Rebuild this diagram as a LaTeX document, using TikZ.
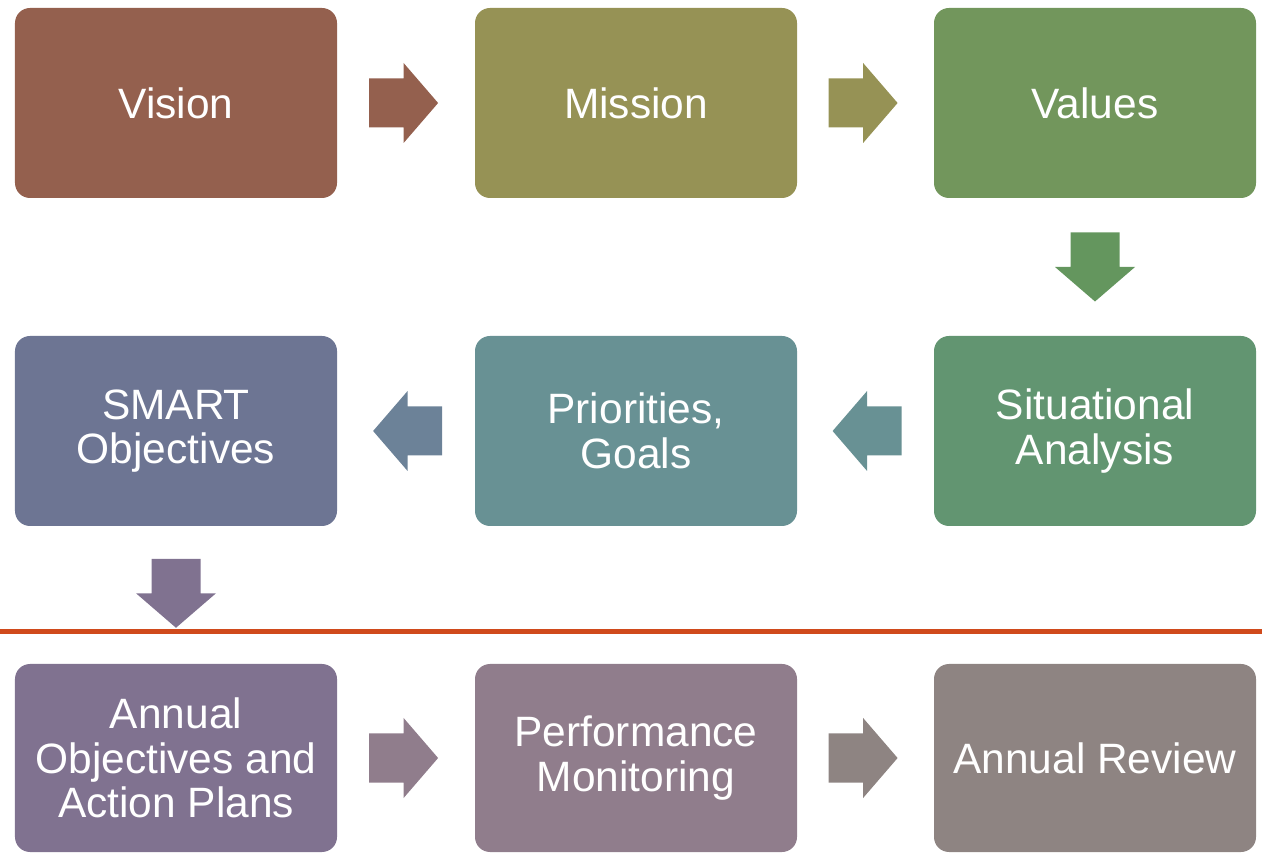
\documentclass[tikz,border=0pt]{standalone}
\usepackage{fontspec}
\setmainfont{Liberation Sans}
\usetikzlibrary{calc}
\definecolor{cvision}{HTML}{94604E}
\definecolor{cmission}{HTML}{969255}
\definecolor{cvalues}{HTML}{72965C}
\definecolor{csituation}{HTML}{629571}
\definecolor{cpriority}{HTML}{689194}
\definecolor{csmart}{HTML}{6D7593}
\definecolor{cannual}{HTML}{807290}
\definecolor{cmonitor}{HTML}{907D8C}
\definecolor{creview}{HTML}{8E8482}
\definecolor{cdown}{HTML}{64965E}
\definecolor{cleft}{HTML}{6C8298}
\definecolor{cline}{HTML}{D04A1C}
\tikzset{
  box/.style={rounded corners=0.375cm, inner sep=0pt, minimum width=8.05cm,
    minimum height=4.75cm, text=white, align=center,
    font=\fontsize{30.2}{31.6}\selectfont},
  blockarrow/.pic={
    \fill (-0.8625,-0.6125) -- (0,-0.6125) -- (0,-1) -- (0.8625,0)
      -- (0,1) -- (0,0.6125) -- (-0.8625,0.6125) -- cycle;
  }
}

\begin{document}
\begin{tikzpicture}
    \useasboundingbox (0,0) rectangle (31.55,21.3);
    % boxes
    \foreach \nm/\x/\y/\col/\txt in {
        vision/4.4/18.725/cvision/{Vision},
        mission/15.9/18.725/cmission/{Mission},
        values/27.375/18.725/cvalues/{Values},
        situation/27.375/10.525/csituation/{Situational\\Analysis},
        priority/15.9/10.525/cpriority/{Priorities,\\Goals},
        smart/4.4/10.525/csmart/{SMART\\Objectives}} {
      \node[box, fill=\col] (\nm) at (\x,\y) {\txt};
    }
    \foreach \nm/\x/\col/\txt in {
        annual/4.4/cannual/{Annual\\Objectives and\\Action Plans},
        monitor/15.9/cmonitor/{Performance\\Monitoring},
        review/27.375/creview/{Annual Review}} {
      \node[box, fill=\col, minimum height=4.7cm] (\nm) at (\x,2.35) {\txt};
    }
    % divider
    \coordinate (cutl) at (0,5.5125);
    \coordinate (cutr) at (31.55,5.5125);
    \draw[cline, line width=0.125cm] (cutl) -- (cutr);
    % arrows
    \pic[fill=cvision] at ($(vision.east)!0.5!(mission.west)+(-0.06,0)$) {blockarrow};
    \pic[fill=cmission] at ($(mission.east)!0.5!(values.west)+(-0.06,0)$) {blockarrow};
    \pic[fill=cdown, rotate=-90] at ($(values.south)!0.5!(situation.north)$) {blockarrow};
    \pic[fill=cpriority, rotate=180] at ($(situation.west)!0.5!(priority.east)+(0.04,0)$) {blockarrow};
    \pic[fill=cleft, rotate=180] at ($(priority.west)!0.5!(smart.east)+(0.04,0)$) {blockarrow};
    \pic[fill=cannual, rotate=-90] at ($(smart.south)+(0,-1.675)$) {blockarrow};
    \pic[fill=cmonitor] at ($(annual.east)!0.5!(monitor.west)+(-0.06,0)$) {blockarrow};
    \pic[fill=creview] at ($(monitor.east)!0.5!(review.west)+(-0.06,0)$) {blockarrow};
\end{tikzpicture}
\end{document}
